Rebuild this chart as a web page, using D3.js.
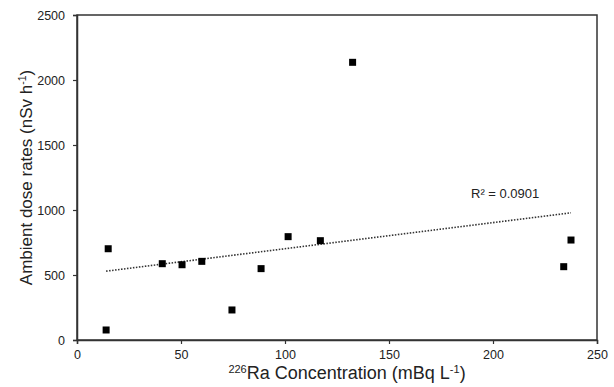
<!DOCTYPE html>
<html><head><meta charset="utf-8">
<script src="https://cdn.jsdelivr.net/npm/d3@7"></script>
<style>body{margin:0;background:#fff}svg{display:block}text{font-family:"Liberation Sans",Arial,sans-serif;fill:#222}</style>
</head><body><svg id="c" width="614" height="387"></svg>
<script>
const raConc = [14, 15, 41, 50.5, 60, 74.5, 88.5, 101.5, 117, 132.5, 234, 237.5];
const doseRate = [77, 702, 587, 579, 605, 231, 549, 795, 764, 2136, 564, 769];
const xTicks = [0, 50, 100, 150, 200, 250];
const yTicks = [0, 500, 1000, 1500, 2000, 2500];
const r2Label = "R² = 0.0901";

const svg = d3.select("#c");
const L = 77, R = 597, T = 15, B = 340;
const x = d3.scaleLinear().domain([0, 250]).range([L, R]);
const y = d3.scaleLinear().domain([0, 2500]).range([B, T]);

// frame
svg.append("rect").attr("x", L).attr("y", T).attr("width", R - L).attr("height", B - T)
  .attr("fill", "none").attr("stroke", "#333").attr("stroke-width", 1.5);

const xa = svg.append("g").attr("transform", `translate(0,${B})`)
  .call(d3.axisBottom(x).tickValues(xTicks).tickSize(4).tickPadding(6).tickFormat(d3.format("d")));
const ya = svg.append("g").attr("transform", `translate(${L},0)`)
  .call(d3.axisLeft(y).tickValues(yTicks).tickSize(4).tickPadding(8).tickFormat(d3.format("d")));
[xa, ya].forEach(g => {
  g.select(".domain").attr("stroke", "#333").attr("stroke-width", 1.5);
  g.selectAll(".tick line").attr("stroke", "#333").attr("stroke-width", 1.2);
  g.selectAll(".tick text").attr("font-size", 12.5).attr("fill", "#222")
    .style("font-family", '"Liberation Sans",Arial,sans-serif');
});

// regression line
const n = raConc.length;
const mx = d3.mean(raConc), my = d3.mean(doseRate);
let sxy = 0, sxx = 0;
for (let i = 0; i < n; i++) { sxy += (raConc[i] - mx) * (doseRate[i] - my); sxx += (raConc[i] - mx) ** 2; }
const slope = sxy / sxx, icpt = my - slope * mx;
const [x0, x1] = d3.extent(raConc);
svg.append("line")
  .attr("x1", x(x0)).attr("y1", y(icpt + slope * x0))
  .attr("x2", x(x1)).attr("y2", y(icpt + slope * x1))
  .attr("stroke", "#333").attr("stroke-width", 1.6).attr("stroke-dasharray", "1.5,1.5");

// points
svg.append("g").selectAll("rect").data(raConc).join("rect")
  .attr("x", (d) => x(d) - 3.5).attr("y", (d, i) => y(doseRate[i]) - 3.5)
  .attr("width", 7).attr("height", 7).attr("fill", "#000");

svg.append("text").attr("x", 471).attr("y", 198).attr("font-size", 13).text(r2Label);

// axis titles
const xt = svg.append("text").attr("x", 347).attr("y", 379).attr("text-anchor", "middle").attr("font-size", 18);
xt.append("tspan").attr("font-size", 11).attr("dy", -6).text("226");
xt.append("tspan").attr("dy", 6).text("Ra Concentration (mBq L");
xt.append("tspan").attr("font-size", 11).attr("dy", -6).text("-1");
xt.append("tspan").attr("dy", 6).text(")");

const yt = svg.append("text").attr("transform", `translate(32,${(T + B) / 2}) rotate(-90)`)
  .attr("text-anchor", "middle").attr("font-size", 17);
yt.append("tspan").text("Ambient dose rates (nSv h");
yt.append("tspan").attr("font-size", 10.5).attr("dy", -6).text("-1");
yt.append("tspan").attr("dy", 6).text(")");
</script></body></html>
